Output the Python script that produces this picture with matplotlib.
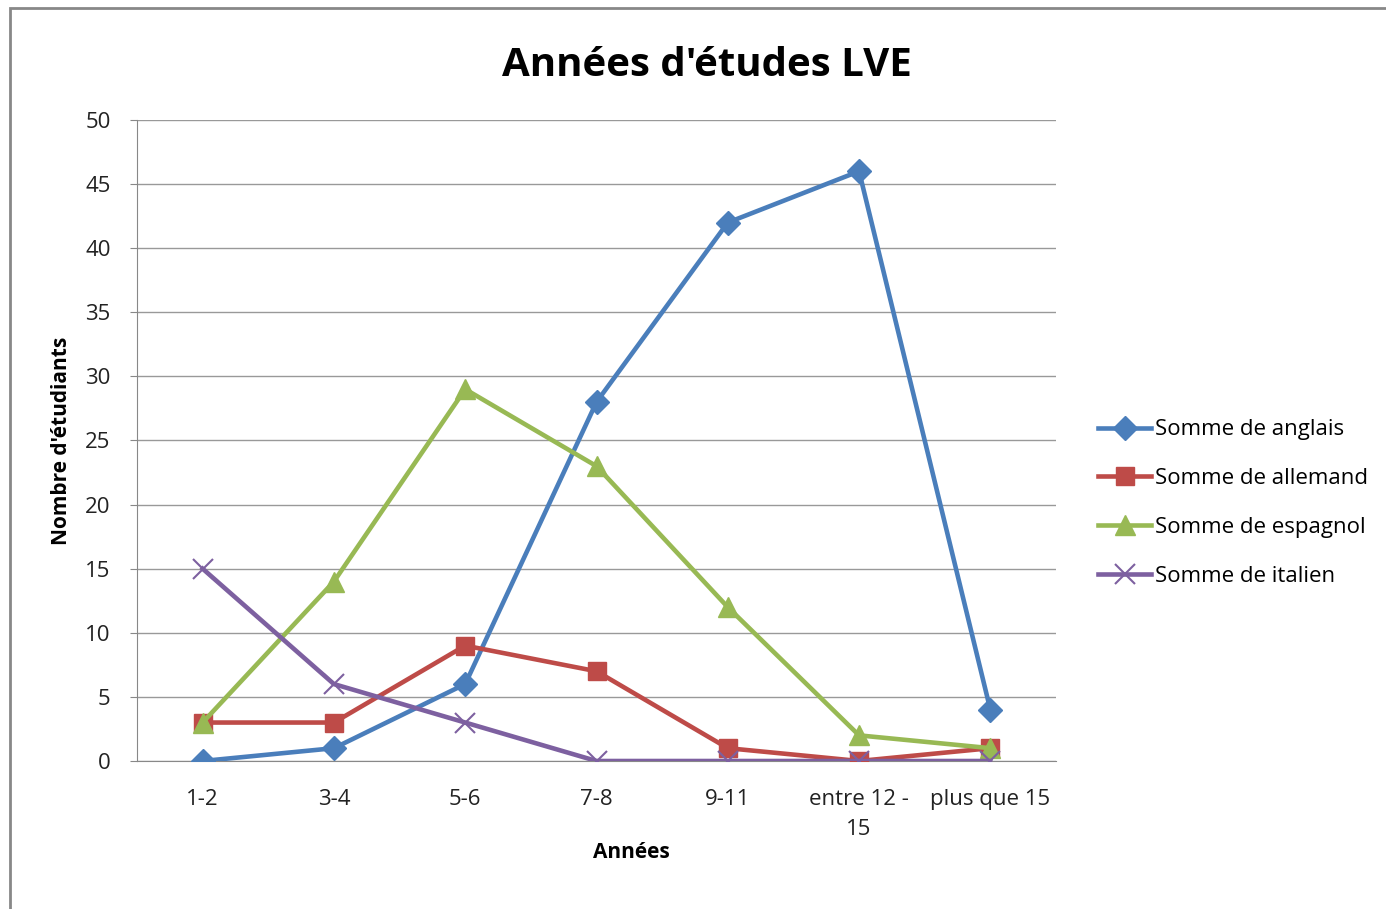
import matplotlib.pyplot as plt
import matplotlib.patches as mpatches

plt.rcParams['font.family'] = ['Open Sans', 'DejaVu Sans']

categories = ['1-2', '3-4', '5-6', '7-8', '9-11', 'entre 12 -\n15', 'plus que 15']
anglais = [0, 1, 6, 28, 42, 46, 4]
allemand = [3, 3, 9, 7, 1, 0, 1]
espagnol = [3, 14, 29, 23, 12, 2, 1]
italien = [15, 6, 3, 0, 0, 0, 0]

x = list(range(len(categories)))

fig = plt.figure(figsize=(13.86, 9.09), dpi=100)
ax = fig.add_axes([137/1386, 1 - 761/909, (1056-137)/1386, (761-120)/909])

# outer chart border (only left/top visible in the reference)
fig.patches.append(mpatches.Rectangle((10/1386, -0.1), 1.2, 1 - 8/909 + 0.1,
                                      transform=fig.transFigure, fill=False,
                                      edgecolor='#888888', linewidth=2))

ax.plot(x, anglais, color='#4A7EBB', lw=3.3, marker='D', ms=12, label='Somme de anglais', zorder=3)
ax.plot(x, allemand, color='#BE4B48', lw=3.3, marker='s', ms=13, label='Somme de allemand', zorder=3)
ax.plot(x, espagnol, color='#98B954', lw=3.3, marker='^', ms=14, label='Somme de espagnol', zorder=3)
ax.plot(x, italien, color='#7D60A0', lw=3.3, marker='x', ms=14, mew=1.5, label='Somme de italien', zorder=3)

ax.set_xlim(-0.5, 6.5)
ax.set_ylim(0, 50)
ax.set_yticks(range(0, 51, 5))
ax.set_xticks(x)
ax.set_xticklabels(categories, fontsize=16, color='#222222', linespacing=1.6)
ax.tick_params(axis='y', labelsize=16, colors='#222222', length=5, color='#888888', pad=14)
ax.tick_params(axis='x', length=0, pad=20)
ax.grid(axis='y', color='#999999', lw=1)
ax.set_axisbelow(True)
for s in ['top', 'right']:
    ax.spines[s].set_visible(False)
ax.spines['left'].set_color('#888888')
ax.spines['bottom'].set_color('#888888')

ax.set_title("Années d'études LVE", fontsize=29, fontweight='bold', x=0.62, pad=32)
ax.set_xlabel('Années', fontsize=15, fontweight='bold')
ax.xaxis.set_label_coords((631 - 137) / 919, -0.127)
ax.set_ylabel("Nombre d'étudiants", fontsize=15, fontweight='bold')
ax.yaxis.set_label_coords(-(137 - 72) / 919, 0.5)

fig.legend(*ax.get_legend_handles_labels(), loc='center left',
           bbox_to_anchor=(1098/1386, 1 - 503/909), frameon=False, fontsize=16,
           handlelength=2.4, handletextpad=0.15, labelspacing=1.25, borderpad=0,
           borderaxespad=0)

fig.savefig('out.png', dpi=100)
